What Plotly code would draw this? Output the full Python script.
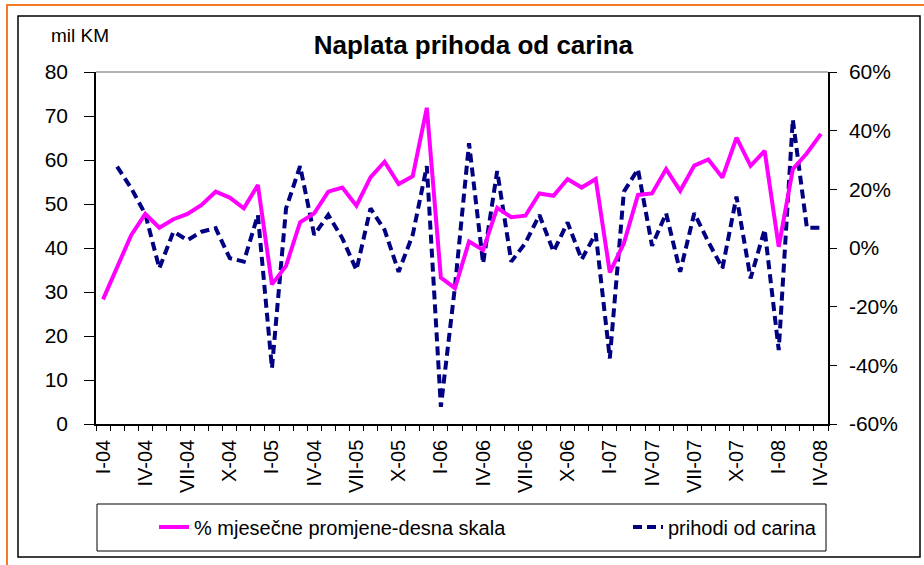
import plotly.graph_objects as go

# ---------------- data ----------------
months = [f"{m}-{y:02d}" for y in range(4, 9) for m in
          ["I", "II", "III", "IV", "V", "VI", "VII", "VIII", "IX", "X", "XI", "XII"]][:52]

tick_labels = ["I-04", "IV-04", "VII-04", "X-04", "I-05", "IV-04", "VII-05", "X-05",
               "I-06", "IV-06", "VII-06", "X-06", "I-07", "IV-07", "VII-07", "X-07",
               "I-08", "IV-08"]

pct_ticks = [-60, -40, -20, 0, 20, 40, 60]
pct_tick_labels = ["-60%", "-40%", "-20%", "0%", "20%", "40%", "60%"]

# % monthly change (right scale)
pct_change = [-17.5, -6.4, 4.4, 11.6, 6.9, 9.8, 11.6, 14.7, 19.2, 17.2, 13.5, 21.5,
              -12.4, -6.1, 8.8, 11.8, 19.2, 20.6, 14.4, 24.1, 29.4, 21.8, 24.5, 47.8,
              -10.1, -13.7, 2.2, -0.7, 13.7, 10.5, 11.0, 18.6, 17.8, 23.5, 20.6, 23.5,
              -8.3, 1.6, 18.1, 18.6, 26.9, 19.5, 28.1, 30.2, 24.0, 37.6, 28.0, 33.1,
              0.4, 26.9, 32.3, 38.9]

# customs revenue, mil KM (left scale)
revenue = [None, 58.5, 53.6, 47.7, 35.4, 43.7, 41.8, 43.7, 44.5, 37.7, 36.9, 47.5,
           12.7, 49.0, 58.6, 43.0, 47.5, 42.2, 35.0, 49.0, 44.1, 34.6, 43.0, 58.6,
           3.9, 31.2, 63.8, 36.5, 57.5, 36.9, 41.1, 47.5, 39.2, 45.8, 37.4, 43.3,
           14.9, 52.8, 57.9, 40.5, 47.9, 34.6, 47.9, 41.4, 35.4, 51.7, 33.1, 44.2,
           16.8, 69.2, 44.6, 44.6]

n = len(months)
xs = list(range(n))
label_pos = list(range(0, n, 3))
boundaries = [i - 0.5 for i in range(n + 1)]

FONT = "Arial, Liberation Sans, sans-serif"
W, H = 924, 565
ML, MR, MT, MB = 96, 96, 72, 141
PW, PH = W - ML - MR, H - MT - MB


def px_x(p):
    return (p - ML) / PW


def px_y(p):
    return (H - MB - p) / PH


fig = go.Figure()
fig.add_trace(go.Scatter(
    x=xs, y=pct_change, name="% mjesečne promjene-desna skala",
    mode="lines", line=dict(color="#FF00FF", width=4), yaxis="y2", legend="legend"))
fig.add_trace(go.Scatter(
    x=xs, y=revenue, name="prihodi od carina",
    mode="lines", line=dict(color="#000080", width=4, dash="9px,5px"), yaxis="y",
    legend="legend2"))

legend_common = dict(orientation="h", yanchor="middle", y=px_y(527), xanchor="left",
                     bgcolor="rgba(0,0,0,0)", borderwidth=0,
                     font=dict(size=20, family=FONT, color="black"))

fig.update_layout(
    width=W, height=H,
    margin=dict(l=ML, r=MR, t=MT, b=MB, autoexpand=False),
    paper_bgcolor="white", plot_bgcolor="white",
    font=dict(family=FONT, color="black"),
    title=dict(text="<b>Naplata prihoda od carina</b>", x=px_x(471), xanchor="center",
               y=1 - 45 / H, yanchor="middle", font=dict(size=26, family=FONT)),
    xaxis=dict(range=[-0.5, n - 0.5], tickmode="array", tickvals=label_pos,
               ticktext=tick_labels, tickangle=-90, ticks="", showgrid=False,
               zeroline=False, showline=True, linecolor="black", linewidth=1.5,
               tickfont=dict(size=20), ticklabelstandoff=6,
               minor=dict(tickmode="array", tickvals=boundaries, ticks="outside",
                          ticklen=5, tickcolor="black", tickwidth=1, showgrid=False)),
    xaxis2=dict(range=[-0.5, n - 0.5], overlaying="x", anchor="y", side="bottom",
                tickmode="array", tickvals=boundaries, ticks="inside", ticklen=4,
                tickcolor="black", showticklabels=False, showgrid=False,
                zeroline=False, showline=False),
    yaxis=dict(range=[0, 80], dtick=10, tick0=0, ticks="outside", ticklen=10,
               tickcolor="black", showgrid=False, zeroline=False, showline=True,
               linecolor="black", linewidth=1.5, tickfont=dict(size=21),
               ticklabelstandoff=12),
    yaxis2=dict(range=[-60, 60], tickmode="array", tickvals=pct_ticks,
                ticktext=pct_tick_labels, overlaying="y",
                side="right", anchor="x", ticks="outside", ticklen=7, tickcolor="black",
                showgrid=False, zeroline=False, showline=True, linecolor="black",
                linewidth=1.5, tickfont=dict(size=21), ticklabelstandoff=8),
    yaxis3=dict(range=[0, 80], dtick=10, tick0=0, overlaying="y", side="left",
                anchor="x", ticks="inside", ticklen=8, tickcolor="black",
                showticklabels=False, showgrid=False, zeroline=False, showline=False),
    yaxis4=dict(range=[-60, 60], tickmode="array", tickvals=pct_ticks, overlaying="y",
                side="right", anchor="x", ticks="inside", ticklen=8, tickcolor="black",
                showticklabels=False, showgrid=False, zeroline=False, showline=False),
    legend=dict(x=px_x(154), **legend_common),
    legend2=dict(x=px_x(628), **legend_common),
    showlegend=True,
    shapes=[
        # outer orange frame
        dict(type="rect", xref="paper", yref="paper", x0=px_x(7), x1=px_x(940),
             y0=px_y(580), y1=px_y(5), line=dict(color="#F47A2A", width=2), layer="below"),
        # inner black frame
        dict(type="rect", xref="paper", yref="paper", x0=px_x(18), x1=px_x(920),
             y0=px_y(557), y1=px_y(16), line=dict(color="black", width=1.5), layer="below"),
        # plot-area top border
        dict(type="line", xref="paper", yref="paper", x0=0, x1=1, y0=1, y1=1,
             line=dict(color="#999999", width=1.5)),
        # legend box
        dict(type="rect", xref="paper", yref="paper", x0=px_x(97), x1=px_x(826),
             y0=px_y(551), y1=px_y(504), line=dict(color="black", width=1),
             fillcolor="white", layer="below"),
    ],
    annotations=[
        dict(text="mil KM", xref="paper", yref="paper", x=px_x(49), y=px_y(36),
             xanchor="left", yanchor="middle", showarrow=False,
             font=dict(size=19, family=FONT)),
    ],
)

fig.write_html("out.html", config={"displayModeBar": False},
               post_script="document.body.style.margin='0px';")
